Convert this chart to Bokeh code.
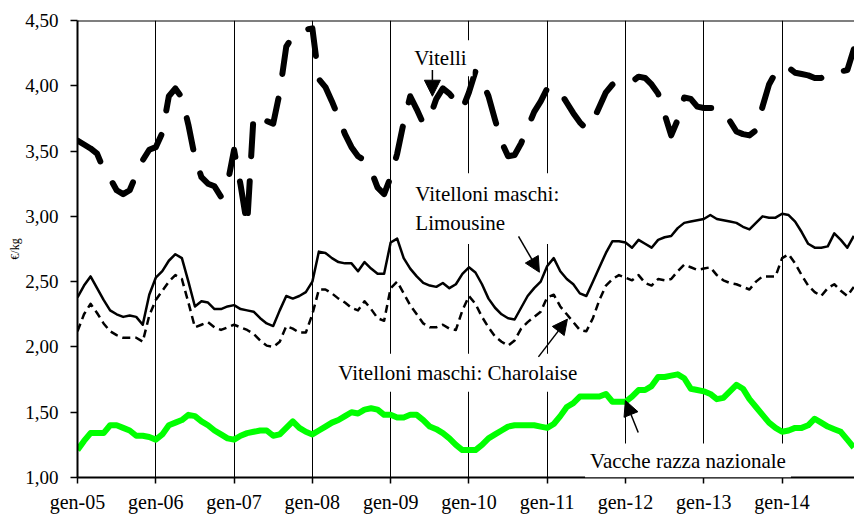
from bokeh.plotting import figure
from bokeh.models import Range1d, FixedTicker, Span, Label, Arrow, NormalHead
from bokeh.embed import file_html
from bokeh.resources import INLINE

# Monthly prices (€/kg), January 2005 - December 2014
vitelli = [
    3.58, 3.55, 3.52, 3.48, 3.36, 3.29, 3.20, 3.17, 3.20, 3.32, 3.43, 3.51,
    3.53, 3.64, 3.92, 3.98, 3.91, 3.70, 3.45, 3.30, 3.25, 3.23, 3.15, 3.25,
    3.51, 3.24, 2.93, 3.78, 3.76, 3.73, 3.71, 3.95, 4.30, 4.38, 4.41, 4.43,
    4.44, 4.05, 3.99, 3.88, 3.76, 3.63, 3.53, 3.46, 3.43, 3.35, 3.22, 3.17,
    3.30, 3.48, 3.72, 3.92, 3.82, 3.71, 3.76, 3.90, 3.98, 3.94, 3.88, 3.82,
    3.95, 4.11, 4.04, 3.92, 3.74, 3.57, 3.46, 3.47, 3.56, 3.68, 3.80, 3.88,
    3.98, 3.99, 3.95, 3.87, 3.79, 3.72, 3.67, 3.73, 3.84, 3.95, 4.01, 4.04,
    4.04, 4.03, 4.07, 4.06, 4.01, 3.94, 3.78, 3.62, 3.74, 3.91, 3.90, 3.84,
    3.83, 3.83, 3.83, 3.80, 3.73, 3.65, 3.63, 3.62, 3.66, 3.84, 4.01, 4.10,
    4.15, 4.14, 4.10, 4.09, 4.08, 4.06, 4.06, 4.10, 4.12, 4.11, 4.12, 4.28,
]
limousine = [
    2.38, 2.47, 2.54, 2.45, 2.36, 2.28, 2.25, 2.23, 2.24, 2.23, 2.17, 2.40,
    2.53, 2.58, 2.66, 2.71, 2.68, 2.50, 2.31, 2.35, 2.34, 2.29, 2.29, 2.31,
    2.32, 2.29, 2.28, 2.27, 2.22, 2.18, 2.16, 2.28, 2.39, 2.37, 2.39, 2.42,
    2.50, 2.73, 2.72, 2.68, 2.65, 2.64, 2.64, 2.58, 2.65, 2.60, 2.56, 2.56,
    2.80, 2.83, 2.68, 2.60, 2.54, 2.49, 2.47, 2.46, 2.49, 2.45, 2.48, 2.56,
    2.61, 2.57, 2.48, 2.37, 2.30, 2.25, 2.22, 2.21, 2.30, 2.39, 2.45, 2.50,
    2.62, 2.68, 2.58, 2.52, 2.48, 2.41, 2.39, 2.50, 2.61, 2.72, 2.81, 2.81,
    2.80, 2.76, 2.82, 2.79, 2.76, 2.82, 2.84, 2.85, 2.91, 2.95, 2.96, 2.97,
    2.98, 3.01, 2.98, 2.97, 2.96, 2.95, 2.92, 2.90, 2.95, 3.00, 2.99, 2.99,
    3.02, 3.01, 2.96, 2.88, 2.79, 2.76, 2.76, 2.77, 2.87, 2.82, 2.76, 2.85,
]
charolaise = [
    2.12, 2.25, 2.33, 2.26, 2.18, 2.12, 2.09, 2.07, 2.07, 2.07, 2.04, 2.24,
    2.36, 2.43, 2.50, 2.55, 2.52, 2.34, 2.15, 2.17, 2.19, 2.15, 2.13, 2.15,
    2.17, 2.15, 2.13, 2.10, 2.05, 2.01, 2.00, 2.04, 2.16, 2.14, 2.11, 2.11,
    2.25, 2.44, 2.44, 2.41, 2.37, 2.34, 2.30, 2.28, 2.35, 2.29, 2.22, 2.20,
    2.45, 2.50, 2.41, 2.32, 2.25, 2.18, 2.15, 2.15, 2.17, 2.14, 2.13, 2.28,
    2.39, 2.33, 2.23, 2.15, 2.08, 2.04, 2.01, 2.05, 2.14, 2.19, 2.23, 2.27,
    2.38, 2.40, 2.31, 2.25, 2.19, 2.13, 2.12, 2.22, 2.36, 2.47, 2.52, 2.55,
    2.53, 2.51, 2.55, 2.49, 2.47, 2.52, 2.51, 2.52, 2.58, 2.63, 2.61, 2.59,
    2.60, 2.61, 2.55, 2.51, 2.49, 2.48, 2.46, 2.44, 2.50, 2.54, 2.54, 2.54,
    2.68, 2.71, 2.64, 2.55, 2.47, 2.42, 2.39, 2.45, 2.48, 2.43, 2.39, 2.46,
]
vacche = [
    1.21, 1.28, 1.34, 1.34, 1.34, 1.40, 1.40, 1.38, 1.36, 1.32, 1.32, 1.31,
    1.29, 1.33, 1.40, 1.42, 1.44, 1.48, 1.47, 1.43, 1.40, 1.36, 1.33, 1.30,
    1.29, 1.32, 1.34, 1.35, 1.36, 1.36, 1.32, 1.33, 1.38, 1.43, 1.38, 1.35,
    1.33, 1.36, 1.39, 1.42, 1.44, 1.47, 1.50, 1.49, 1.52, 1.53, 1.52, 1.48,
    1.48, 1.46, 1.46, 1.48, 1.48, 1.44, 1.39, 1.37, 1.34, 1.30, 1.25, 1.21,
    1.21, 1.21, 1.25, 1.30, 1.33, 1.36, 1.39, 1.40, 1.40, 1.40, 1.40, 1.39,
    1.38, 1.41, 1.47, 1.54, 1.57, 1.62, 1.62, 1.62, 1.62, 1.64, 1.58, 1.58,
    1.58, 1.62, 1.67, 1.67, 1.70, 1.77, 1.77, 1.78, 1.79, 1.76, 1.68, 1.67,
    1.66, 1.64, 1.60, 1.61, 1.66, 1.71, 1.68, 1.60, 1.54, 1.48, 1.42, 1.38,
    1.35, 1.36, 1.38, 1.38, 1.40, 1.45, 1.42, 1.39, 1.37, 1.35, 1.29, 1.23,
]

month_index = list(range(len(vitelli)))
year_ticks = [0, 12, 24, 36, 48, 60, 72, 84, 96, 108]
year_labels = ["gen-05", "gen-06", "gen-07", "gen-08", "gen-09",
               "gen-10", "gen-11", "gen-12", "gen-13", "gen-14"]
y_ticks = [1.0, 1.5, 2.0, 2.5, 3.0, 3.5, 4.0, 4.5]
y_labels = ["1,00", "1,50", "2,00", "2,50", "3,00", "3,50", "4,00", "4,50"]

FONT = "Liberation Serif"

p = figure(width=854, height=515, output_backend="svg", toolbar_location=None,
           x_range=Range1d(0, 119.1), y_range=Range1d(1.0, 4.5),
           min_border_left=77, min_border_right=0, min_border_top=20,
           min_border_bottom=36)
p.outline_line_color = None
p.background_fill_color = "white"
p.border_fill_color = "white"

# x axis
p.xaxis.ticker = FixedTicker(ticks=year_ticks)
p.xaxis.major_label_overrides = dict(zip(year_ticks, year_labels))
p.xaxis.axis_line_color = "black"
p.xaxis.axis_line_width = 2
p.xaxis.major_tick_line_color = "black"
p.xaxis.major_tick_line_width = 1.5
p.xaxis.major_tick_in = 0
p.xaxis.major_tick_out = 6
p.xaxis.minor_tick_line_color = None
p.xaxis.major_label_standoff = 7
p.xaxis.major_label_text_font = FONT
p.xaxis.major_label_text_font_size = "20px"
p.xaxis.major_label_text_color = "black"

# y axis
p.yaxis.ticker = FixedTicker(ticks=y_ticks)
p.yaxis.major_label_overrides = dict(zip(y_ticks, y_labels))
p.yaxis.axis_line_color = "black"
p.yaxis.axis_line_width = 2
p.yaxis.major_tick_line_color = "black"
p.yaxis.major_tick_line_width = 1.5
p.yaxis.major_tick_in = 0
p.yaxis.major_tick_out = 7
p.yaxis.minor_tick_line_color = None
p.yaxis.major_label_standoff = 12
p.yaxis.major_label_text_font = FONT
p.yaxis.major_label_text_font_size = "19px"
p.yaxis.major_label_text_color = "black"
p.yaxis.axis_label = "€/kg"
p.yaxis.axis_label_text_font = FONT
p.yaxis.axis_label_text_font_size = "12px"
p.yaxis.axis_label_text_font_style = "normal"
p.yaxis.axis_label_text_color = "black"
p.yaxis.axis_label_standoff = 0

# grids: vertical lines at every January
p.xgrid.ticker = FixedTicker(ticks=year_ticks[1:])
p.xgrid.grid_line_color = "black"
p.xgrid.grid_line_width = 1
p.ygrid.grid_line_color = None

# top border of the plot area
p.add_layout(Span(location=4.5, dimension="width", line_color="black", line_width=2))

# series
p.line(month_index, vitelli, line_color="black", line_width=6,
       line_dash="32 25", line_cap="round", line_join="round")
p.line(month_index, limousine, line_color="black", line_width=2.5, line_join="round")
p.line(month_index, charolaise, line_color="black", line_width=2.5,
       line_dash="8 5", line_join="round")
p.line(month_index, vacche, line_color="#00FF00", line_width=6, line_join="round")

# annotations
def add_label(text, x, y, baseline="middle", pad=6):
    p.add_layout(Label(x=x, y=y, text=text, text_font=FONT, text_font_size="21px",
                       text_color="black", text_align="left", text_baseline=baseline,
                       background_fill_color="white", padding=pad))

add_label("Vitelli", 50.7, 4.21)
add_label("Vitelloni maschi:\nLimousine", 50.4, 3.33, baseline="top", pad=9)
add_label("Vitelloni maschi: Charolaise", 38.9, 1.802, pad=7)
add_label("Vacche razza nazionale", 77.8, 1.13, pad=5)

def add_arrow(x0, y0, x1, y1, size=15):
    p.add_layout(Arrow(end=NormalHead(size=size, fill_color="black", line_color="black"),
                       x_start=x0, y_start=y0, x_end=x1, y_end=y1,
                       line_color="black", line_width=1.5))

add_arrow(54.4, 4.12, 54.4, 3.92, size=16)
add_arrow(67.6, 2.846, 70.8, 2.572)
add_arrow(70.65, 1.924, 75.1, 2.213)
add_arrow(85.95, 1.345, 83.98, 1.589)

open("out.html", "w").write(file_html(p, INLINE))
